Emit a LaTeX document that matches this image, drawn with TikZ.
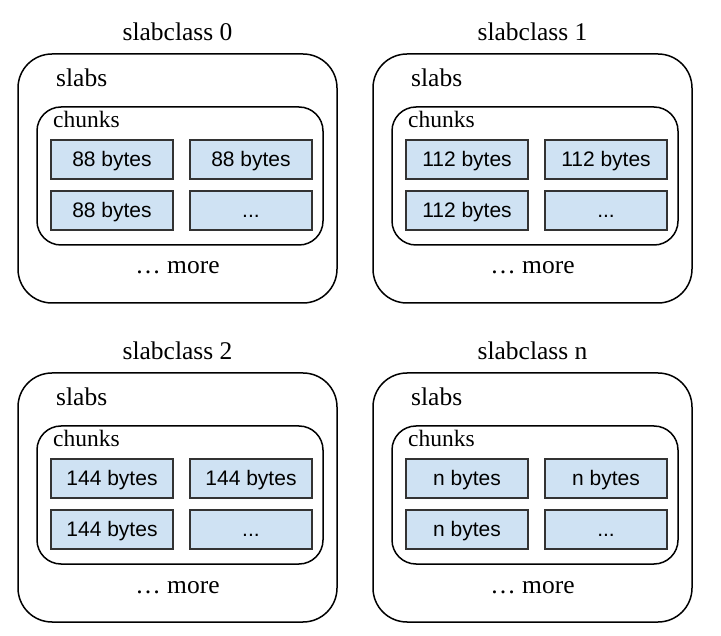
\documentclass[tikz,border=0pt]{standalone}
\usepackage{fontspec}
\setmainfont{Liberation Serif}
\setsansfont{Liberation Sans}
\usetikzlibrary{positioning}

\definecolor{cellblue}{HTML}{CFE2F3}
\definecolor{celledge}{HTML}{333333}

\tikzset{
  slabbox/.style={draw, line width=1.5pt, rounded corners=34pt, minimum width=319pt,
    minimum height=249pt, inner sep=0pt, outer sep=0pt},
  chunkbox/.style={draw, line width=1.5pt, rounded corners=24pt, minimum width=286pt,
    minimum height=138pt, inner sep=0pt, outer sep=0pt},
  cell/.style={draw=celledge, line width=1.5pt, fill=cellblue, minimum width=122pt,
    minimum height=39pt, inner sep=0pt, outer sep=0pt, text height=16.8pt, text depth=2.1pt,
    font=\fontsize{21}{24}\selectfont\sffamily},
  bigtext/.style={inner sep=0pt, font=\fontsize{25.5}{30}\selectfont},
  midtext/.style={inner sep=0pt, font=\fontsize{23.5}{28}\selectfont},
}

\begin{document}
\begin{tikzpicture}[x=1pt, y=-1pt]
  \useasboundingbox (0,0) rectangle (721,636);

  % one panel per slabclass
  \foreach \id/\ox/\oy/\sz in {0/0/0/88, 1/355/0/112, 2/0/319/144, n/355/319/n} {
    \begin{scope}[shift={(\ox,\oy)}]
      % frames
      \node[slabbox] (slab\id) at (177.5,178.5) {};
      \node[chunkbox] (chunks\id) at (180,176) {};

      % labels
      \node[bigtext, anchor=base] (title\id) at (177.5,41) {slabclass \id};
      \node[bigtext, anchor=base west] (slabs\id) at (56,87) {slabs};
      \node[midtext, anchor=base west] (chunklbl\id) at (53,128) {chunks};
      \node[bigtext, anchor=base] (more\id) at (177.5,274) {… more};

      % chunk cells
      \node[cell] (a\id) at (112,159.5) {\sz\ bytes};
      \node[cell, right=17pt of a\id] (b\id) {\sz\ bytes};
      \node[cell, below=12pt of a\id] (c\id) {\sz\ bytes};
      \node[cell, below=12pt of b\id] (d\id) {...};
    \end{scope}
  }
\end{tikzpicture}
\end{document}
